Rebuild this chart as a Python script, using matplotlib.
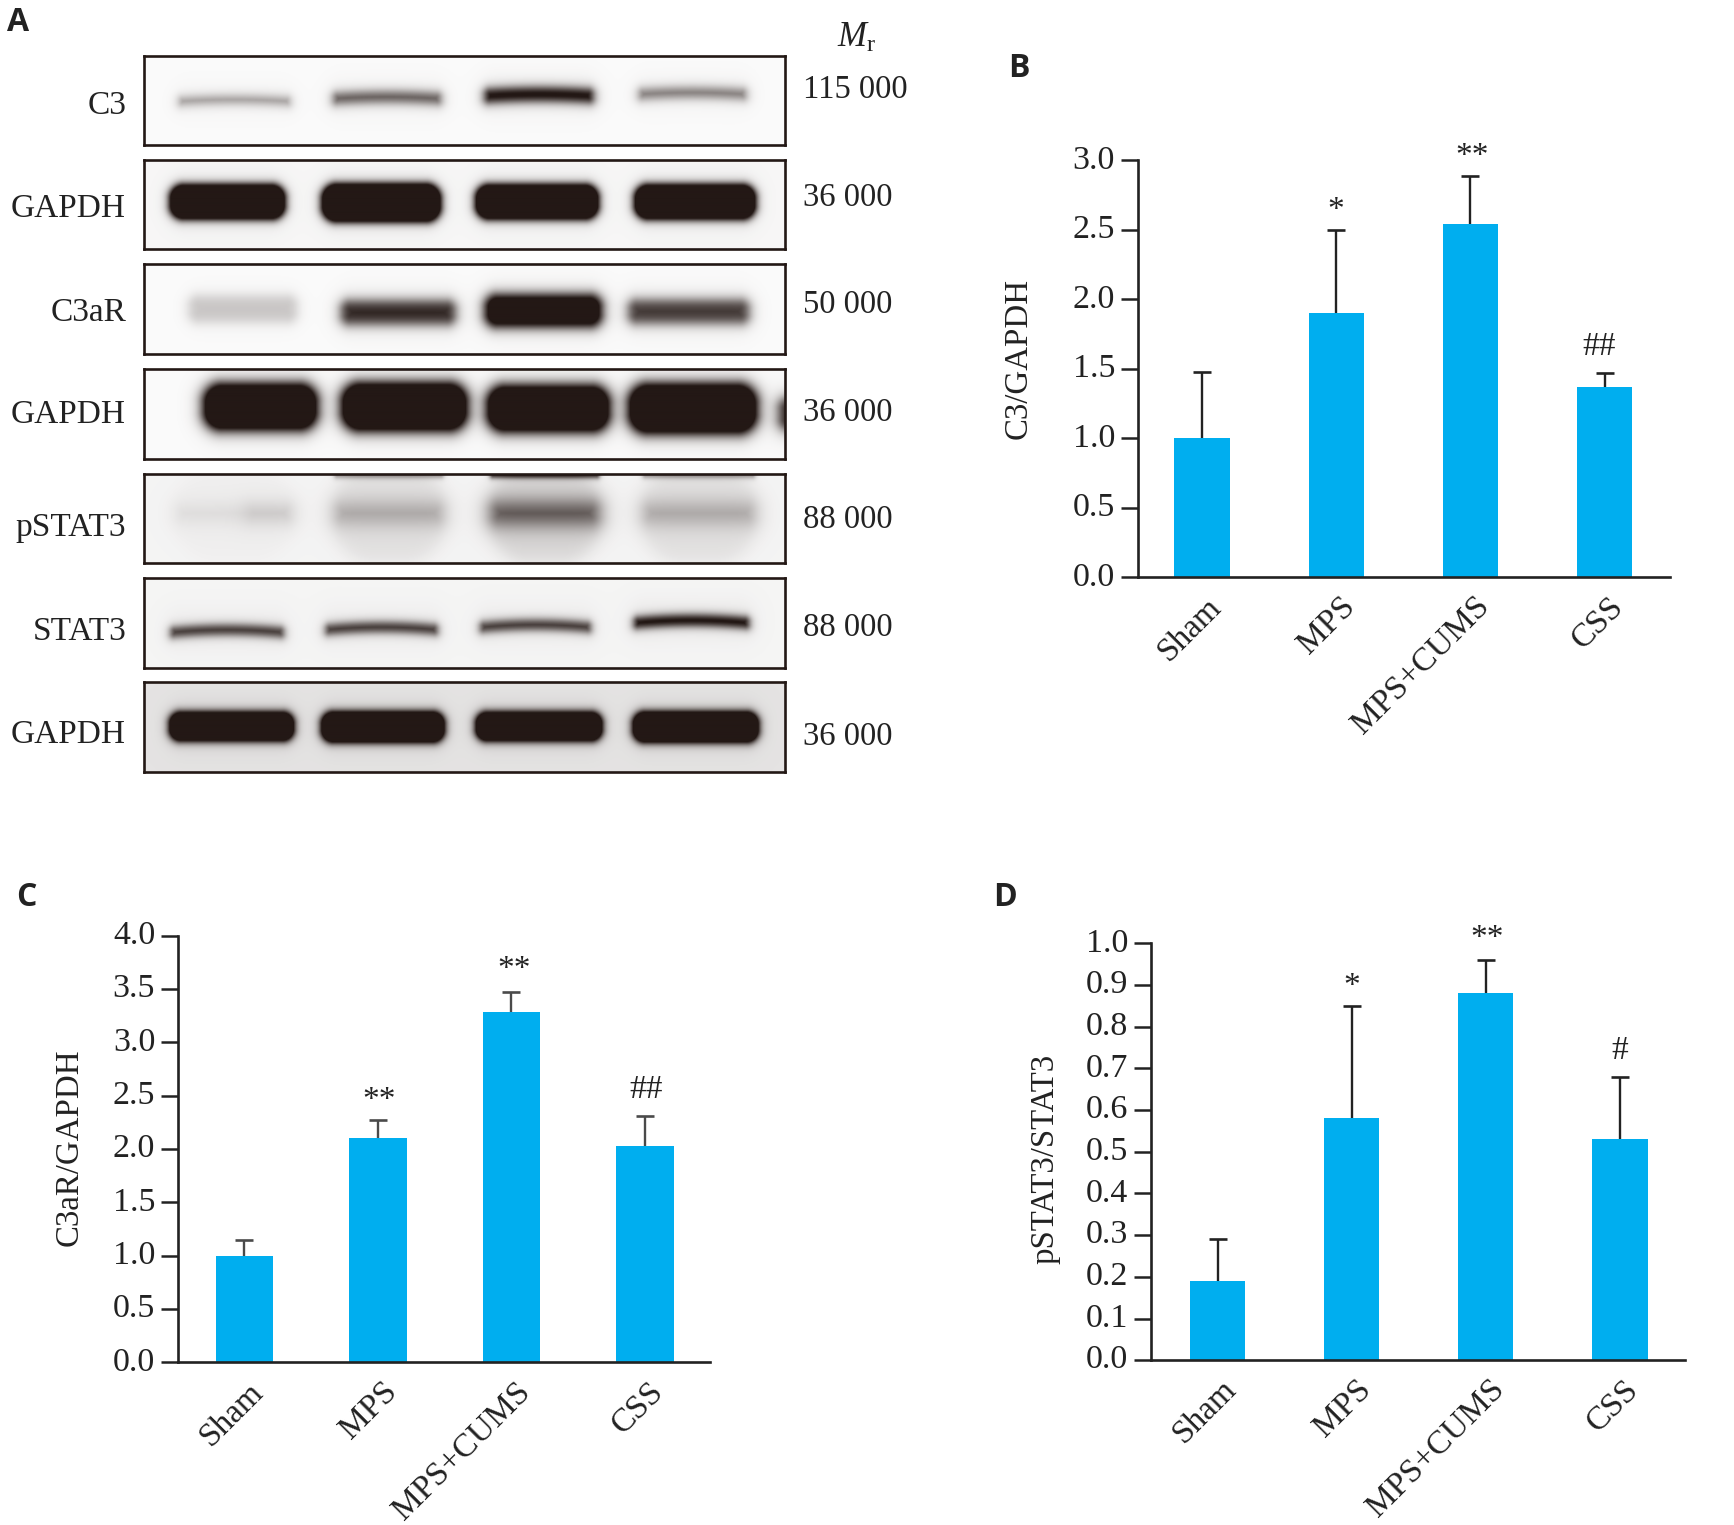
import numpy as np
import matplotlib
matplotlib.use("Agg")
import matplotlib.pyplot as plt
from matplotlib.colors import LinearSegmentedColormap
from matplotlib.transforms import ScaledTranslation

plt.rcParams['font.family'] = ['Liberation Serif', 'DejaVu Serif']
plt.rcParams['mathtext.fontset'] = 'custom'
plt.rcParams['mathtext.it'] = 'Liberation Serif:italic'
plt.rcParams['mathtext.rm'] = 'Liberation Serif'

W, H = 1734, 1525
S = 1734 / 1568.0

categories = ['Sham', 'MPS', 'MPS+CUMS', 'CSS']

c3_mean = [1.0, 1.9, 2.54, 1.37]
c3_top = [1.48, 2.5, 2.89, 1.47]
c3_marks = ['', '*', '**', '##']
c3_ticks = [0.0, 0.5, 1.0, 1.5, 2.0, 2.5, 3.0]

c3ar_mean = [1.0, 2.1, 3.28, 2.03]
c3ar_top = [1.15, 2.27, 3.47, 2.31]
c3ar_marks = ['', '**', '**', '##']
c3ar_ticks = [0.0, 0.5, 1.0, 1.5, 2.0, 2.5, 3.0, 3.5, 4.0]

pstat_mean = [0.19, 0.58, 0.88, 0.53]
pstat_top = [0.29, 0.85, 0.96, 0.68]
pstat_marks = ['', '*', '**', '#']
pstat_ticks = [0.0, 0.1, 0.2, 0.3, 0.4, 0.5, 0.6, 0.7, 0.8, 0.9, 1.0]

blot_names = ['C3', 'GAPDH', 'C3aR', 'GAPDH', 'pSTAT3', 'STAT3', 'GAPDH']
blot_mr = ['115 000', '36 000', '50 000', '36 000', '88 000', '88 000', '36 000']

# lane edges, band centre, band half-thickness and band density, read from the blots
c3_lanes = [(.055, .226), (.295, .462), (.531, .70), (.772, .938)]
c3_y = [.49, .46, .43, .41]
c3_h = [.04, .06, .075, .055]
c3_d = [.45, .72, 1.1, .58]

g1_lanes = [(.039, .22), (.276, .463), (.516, .709), (.764, .954)]
g1_y = [.47, .48, .47, .47]
g1_h = [.20, .22, .20, .20]
g1_d = [1.5, 1.5, 1.5, 1.5]

ar_lanes = [(.069, .238), (.307, .485), (.531, .714), (.755, .943)]
ar_y = [.50, .54, .52, .53]
ar_h = [.15, .13, .18, .13]
ar_d = [.22, .9, 1.3, .82]

g2_lanes = [(.092, .27), (.307, .504), (.534, .726), (.755, .956), (.99, 1.03)]
g2_y = [.42, .42, .44, .44, .50]
g2_h = [.26, .27, .26, .28, .17]
g2_d = [1.5, 1.5, 1.5, 1.5, 1.0]

ps_lanes = [(.05, .229), (.297, .466), (.54, .709), (.778, .952)]
ps_y = [.44, .44, .44, .44]
ps_h = [.09, .11, .12, .11]
ps_d = [.09, .27, .60, .27]

s3_lanes = [(.041, .217), (.283, .457), (.524, .696), (.764, .943)]
s3_y = [.577, .547, .52, .47]
s3_h = [.055, .055, .055, .06]
s3_d = [.85, .85, .85, 1.05]

g3_lanes = [(.039, .233), (.276, .468), (.517, .714), (.762, .958)]
g3_y = [.494, .50, .494, .50]
g3_h = [.16, .17, .16, .17]
g3_d = [1.6, 1.6, 1.6, 1.6]

blot_data = [
    (c3_lanes, c3_y, c3_h, c3_d, .02),
    (g1_lanes, g1_y, g1_h, g1_d, .035),
    (ar_lanes, ar_y, ar_h, ar_d, .02),
    (g2_lanes, g2_y, g2_h, g2_d, .02),
    (ps_lanes, ps_y, ps_h, ps_d, .05),
    (s3_lanes, s3_y, s3_h, s3_d, .045),
    (g3_lanes, g3_y, g3_h, g3_d, .12),
]
blot_arch = [.02, .0, .0, .0, .0, .03, .0]
blot_soft = [3.0, 2.5, 3.5, 4.0, 6.0, 2.5, 2.5]
# thin band cut off at the top of pSTAT3, and the haze in its lanes
ps_top_d = [.0, .45, .95, .45]
ps_haze = [.02, .08, .12, .08]
ps_right = (.16, .229, .44, .09, .10)

blot_top_view = [51, 145, 239, 334, 429, 523, 617]
blot_bottom_view = [131, 225, 320, 415, 509, 604, 698]
name_y_view = [96, 189, 283, 375, 477, 571, 664]
mr_y_view = [81, 179, 276, 373, 470, 568, 666]

DARK = '#231815'
LINE = '#222222'
BAR = '#00AEEF'
cmap = LinearSegmentedColormap.from_list('blot', ['#ffffff', DARK])
BW, BH = 642.0, 88.0


def sig(v):
    return 1 / (1 + np.exp(np.clip(-v, -40, 40)))


def band(X, Y, x0, x1, yc, hh, d, soft=3.0, arch=0.0):
    """Blurred rounded band in a blot; coordinates are fractions of the blot box."""
    cx, hw = (x0 + x1) / 2 * BW, (x1 - x0) / 2 * BW
    hpx = hh * BH
    r = min(hpx, hw) * .8
    dx = X * BW - cx
    dy = (Y - yc) * BH - arch * BH * (dx / hw) ** 2
    qx, qy = np.abs(dx) - hw + r, np.abs(dy) - hpx + r
    sd = np.hypot(np.maximum(qx, 0), np.maximum(qy, 0)) + np.minimum(np.maximum(qx, qy), 0) - r
    return d * sig(-sd / soft)


def px_axes(fig, x0, y0, x1, y1):
    return fig.add_axes([x0 * S / W, 1 - y1 * S / H, (x1 - x0) * S / W, (y1 - y0) * S / H])


fig = plt.figure(figsize=(W / 100, H / 100), dpi=100)

for i, (name, mr) in enumerate(zip(blot_names, blot_mr)):
    top, bot = blot_top_view[i], blot_bottom_view[i]
    ax = px_axes(fig, 130, top, 710, bot)
    lanes, ys, hs, ds, bg = blot_data[i]
    X, Y = np.meshgrid(np.linspace(0, 1, 642), np.linspace(0, 1, 88))
    img = np.full(X.shape, bg, dtype=float)
    for (x0, x1), yc, hh, d in zip(lanes, ys, hs, ds):
        img += band(X, Y, x0, x1, yc, hh, d, soft=blot_soft[i], arch=blot_arch[i])
        img += band(X, Y, x0, x1, yc, hh + .12, .05 * min(d, 1), soft=8.0)
    if name == 'pSTAT3':
        for (x0, x1), td, hz in zip(lanes, ps_top_d, ps_haze):
            img += band(X, Y, x0, x1, 0.0, .035, td, soft=1.5)
            img += band(X, Y, x0, x1, .45, .55, hz, soft=5.0)
        img += band(X, Y, ps_right[0], ps_right[1], ps_right[2], ps_right[3], ps_right[4], soft=6.0)
    ax.imshow(np.clip(img, 0, 1), cmap=cmap, vmin=0, vmax=1, aspect='auto',
              extent=(0, 1, 1, 0), interpolation='bilinear')
    ax.set_xticks([])
    ax.set_yticks([])
    for sp in ax.spines.values():
        sp.set_linewidth(1.9)
        sp.set_color(DARK)
    fig.text(114 * S / W, 1 - name_y_view[i] * S / H, name, ha='right', va='center', fontsize=24, color='#222222')
    fig.text(726 * S / W, 1 - mr_y_view[i] * S / H, mr, ha='left', va='center', fontsize=23.5, color='#222222')

fig.text(757 * S / W, 1 - 42 * S / H, r'$\mathit{M}_{\mathrm{r}}$', fontsize=25, color='#222222', ha='left', va='baseline')

c3_dx = [0, 0, 1, -4]
c3_dy = [0, 0, 0, 0]
ar_dx = [0, 1, 2, 1]
ar_dy = [0, 0, 2, 0]
ps_dx = [0, 0, 1, 0]
ps_dy = [0, 0, 1, 0]

panels = [
    (c3_mean, c3_top, c3_marks, c3_ticks, 'C3/GAPDH', 1029, 145, 1510, 522, 1087, 121.3, 50, LINE, 921, 324, c3_dx, c3_dy),
    (c3ar_mean, c3ar_top, c3ar_marks, c3ar_ticks, 'C3aR/GAPDH', 161, 846, 642, 1232, 221, 120.7, 52, '#4a4a4a', 63, 1037, ar_dx, ar_dy),
    (pstat_mean, pstat_top, pstat_marks, pstat_ticks, 'pSTAT3/STAT3', 1041, 853, 1524, 1230, 1101, 121.3, 50, LINE, 945, 1048, ps_dx, ps_dy),
]

for mean, top, marks, ticks, ylabel, x0, y0, x1, y1, c0, dc, bw, errc, ylx, yly, mdx, mdy in panels:
    ax = px_axes(fig, x0, y0, x1, y1)
    xpos = np.arange(len(categories))
    ax.bar(xpos, mean, width=bw / dc, color=BAR, zorder=2)
    up = np.array(top) - np.array(mean)
    _, caps, _ = ax.errorbar(xpos, mean, yerr=[np.zeros(4), up], fmt='none', ecolor=errc, elinewidth=1.7,
                             capsize=6.5, capthick=1.9, zorder=1)
    caps[0].set_visible(False)
    ax.set_xlim((x0 - c0) / dc, (x1 - c0) / dc)
    ax.set_ylim(ticks[0], ticks[-1])
    ax.set_yticks(ticks)
    ax.set_yticklabels(['%.1f' % t for t in ticks], fontsize=24.5, color='#222222')
    ax.tick_params(axis='y', length=12, width=1.8, color=LINE, pad=4.5)
    up_shift = ScaledTranslation(0, 2.5 / 72, fig.dpi_scale_trans)
    for lab in ax.get_yticklabels():
        lab.set_transform(lab.get_transform() + up_shift)
    ax.set_xticks([])
    for s in ('top', 'right'):
        ax.spines[s].set_visible(False)
    for s in ('left', 'bottom'):
        ax.spines[s].set_linewidth(1.9)
        ax.spines[s].set_color(LINE)
    for x, cat in zip(xpos, categories):
        ax.annotate(cat, (x, 0), xytext=(2.5, -10), textcoords='offset points', rotation=45,
                    rotation_mode='anchor', ha='right', va='top', fontsize=24, color='#222222',
                    annotation_clip=False)
    for x, t, m, dx, dy in zip(xpos, top, marks, mdx, mdy):
        if m:
            off = 8 if '*' in m else 13
            ax.annotate(m, (x, t), xytext=(dx, off + dy), textcoords='offset points', ha='center',
                        va='baseline', fontsize=24, color='#222222', annotation_clip=False)
    fig.text(ylx * S / W, 1 - yly * S / H, ylabel, rotation=90, ha='center', va='center',
             fontsize=23.7, color='#222222')

for letter, lx, ly in [('A', 6, 20), ('B', 912, 62), ('C', 15, 812), ('D', 898, 812)]:
    fig.text(lx * S / W, 1 - ly * S / H, letter, family='Open Sans', fontweight='bold', fontsize=23,
             color='#222222', ha='left', va='center')

fig.savefig('out.png', dpi=100)
